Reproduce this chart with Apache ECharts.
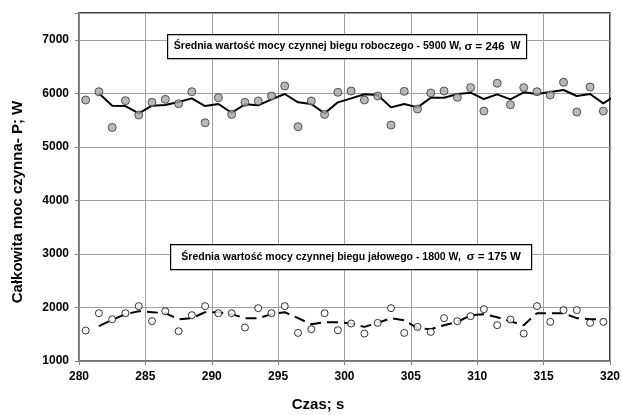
<!DOCTYPE html>
<html>
<head>
<meta charset="utf-8">
<script src="https://cdn.jsdelivr.net/npm/echarts@6/dist/echarts.min.js"></script>
<style>
  html, body { margin: 0; padding: 0; background: #fff; }
  #chart { width: 622px; height: 415px; }
</style>
</head>
<body>
<div id="chart"></div>
<script>
// Sample times (s), one reading per second
const times = [
  280.5, 281.5, 282.5, 283.5, 284.5, 285.5, 286.5, 287.5, 288.5, 289.5,
  290.5, 291.5, 292.5, 293.5, 294.5, 295.5, 296.5, 297.5, 298.5, 299.5,
  300.5, 301.5, 302.5, 303.5, 304.5, 305.5, 306.5, 307.5, 308.5, 309.5,
  310.5, 311.5, 312.5, 313.5, 314.5, 315.5, 316.5, 317.5, 318.5, 319.5
];

// Working run: measured total active power (W)
const workPoints = [
  5875, 6030, 5363, 5862, 5594, 5831, 5887, 5806, 6030, 5449,
  5918, 5606, 5831, 5856, 5950, 6137, 5375, 5856, 5606, 6019,
  6043, 5875, 5950, 5406, 6037, 5706, 6006, 6043, 5925, 6106,
  5669, 6187, 5787, 6106, 6030, 5968, 6206, 5650, 6118, 5669
];

// Working run: smoothed trend (W), from 281.5 s onward
const workTrendTimes = [
  281.5, 282.5, 283.5, 284.5, 285.5, 286.5, 287.5, 288.5, 289.5, 290.5,
  291.5, 292.5, 293.5, 294.5, 295.5, 296.5, 297.5, 298.5, 299.5, 300.5,
  301.5, 302.5, 303.5, 304.5, 305.5, 306.5, 307.5, 308.5, 309.5, 310.5,
  311.5, 312.5, 313.5, 314.5, 315.5, 316.5, 317.5, 318.5, 319.5, 320.5
];
const workTrend = [
  6000, 5768, 5762, 5625, 5768, 5781, 5837, 5906, 5762, 5800,
  5637, 5794, 5775, 5887, 5987, 5831, 5800, 5625, 5831, 5906,
  5981, 5968, 5737, 5800, 5737, 5918, 5918, 5987, 6012, 5893,
  5981, 5887, 6019, 5987, 6025, 6062, 5950, 5987, 5812, 5975
];

// Idle run: measured total active power (W)
const idlePoints = [
  1569, 1893, 1780, 1893, 2025, 1745, 1930, 1556, 1856, 2025,
  1893, 1893, 1625, 1987, 1893, 2025, 1525, 1594, 1893, 1575,
  1700, 1513, 1712, 1987, 1525, 1637, 1543, 1800, 1743, 1837,
  1968, 1669, 1775, 1513, 2025, 1731, 1950, 1950, 1712, 1731
];

// Idle run: smoothed trend (W), 281.5 s .. 319.5 s
const idleTrend = [
  1650, 1770, 1875, 1930, 1912, 1893, 1780, 1800, 1912, 1912,
  1875, 1800, 1800, 1875, 1912, 1800, 1687, 1725, 1725, 1700,
  1637, 1712, 1800, 1762, 1612, 1594, 1669, 1730, 1856, 1875,
  1818, 1740, 1669, 1893, 1893, 1893, 1800, 1780, 1780
];

// Axis settings
const xMin = 280, xMax = 320, xStep = 5;
const yMin = 1000, yMax = 7500, yStep = 1000;

// Annotation texts
const workNote = ['Średnia wartość mocy czynnej biegu roboczego - 5900 W, ', 'σ = 246', '  W'];
const idleNote = ['Średnia wartość mocy czynnej biegu jałowego - 1800 W,  ', 'σ = 175 W', ''];
const xTitle = 'Czas; s';
const yTitle = 'Całkowita moc czynna- P; W';

const pair = (xs, ys) => xs.map((x, i) => [x, ys[i]]);

const FONT = 'Liberation Sans, Arial, sans-serif';

const chart = echarts.init(document.getElementById('chart'), null, { renderer: 'canvas' });

function noteBox(lines, x, y, w, h) {
  return {
    type: 'group',
    left: x, top: y, z: 100,
    children: [
      { type: 'rect', z: 100, shape: { x: 0, y: 0, width: w, height: h },
        style: { fill: '#fff', stroke: '#000', lineWidth: 1.2 } },
      { type: 'text', z: 101, x: w / 2, y: h / 2,
        style: {
          text: '{a|' + lines[0] + '}{b|' + lines[1] + '}{a|' + lines[2] + '}',
          align: 'center', verticalAlign: 'middle',
          rich: {
            a: { fontFamily: FONT, fontWeight: 'bold', fontSize: 10.5, fill: '#000' },
            b: { fontFamily: FONT, fontWeight: 'bold', fontSize: 11.5, fill: '#000' }
          }
        } }
    ]
  };
}

chart.setOption({
  animation: false,
  backgroundColor: '#fff',
  grid: {
    left: 79, right: 12, top: 13, bottom: 54,
    outerBoundsMode: 'none', containLabel: false,
    show: true, borderColor: '#000', borderWidth: 1.5, backgroundColor: 'transparent'
  },
  xAxis: {
    type: 'value', min: xMin, max: xMax, interval: xStep,
    axisLine: { show: true, lineStyle: { color: '#808080', width: 1.5 } },
    axisTick: { show: true, length: 4, lineStyle: { color: '#808080' } },
    axisLabel: { fontFamily: FONT, fontWeight: 'bold', fontSize: 12, color: '#000', margin: 10 },
    splitLine: { show: true, lineStyle: { color: '#a0a0a0', width: 1 } }
  },
  yAxis: {
    type: 'value', min: yMin, max: yMax, interval: yStep,
    axisLine: { show: true, lineStyle: { color: '#808080', width: 1.5 } },
    axisTick: { show: true, length: 4, lineStyle: { color: '#808080' } },
    axisLabel: {
      fontFamily: FONT, fontWeight: 'bold', fontSize: 12, color: '#000', margin: 10,
      formatter: v => (v % yStep === 0 ? String(v) : '')
    },
    splitLine: { show: true, lineStyle: { color: '#a0a0a0', width: 1 } }
  },
  series: [
    {
      name: 'work-trend', type: 'line', data: pair(workTrendTimes, workTrend),
      showSymbol: false, symbol: 'none', clip: true,
      lineStyle: { color: '#000', width: 2 }, z: 2
    },
    {
      name: 'work', type: 'scatter', data: pair(times, workPoints),
      symbol: 'circle', symbolSize: 8,
      itemStyle: { color: '#a6a6a6', borderColor: '#333', borderWidth: 1 }, z: 3
    },
    {
      name: 'idle-trend', type: 'line', data: pair(times.slice(1), idleTrend),
      showSymbol: false, symbol: 'none', clip: true,
      lineStyle: { color: '#000', width: 2, type: [11, 6] }, z: 2
    },
    {
      name: 'idle', type: 'scatter', data: pair(times, idlePoints),
      symbol: 'circle', symbolSize: 7,
      itemStyle: { color: '#fff', borderColor: '#000', borderWidth: 1 }, z: 3
    }
  ],
  graphic: [
    noteBox(workNote, 167, 34, 359, 24),
    noteBox(idleNote, 170, 244, 361, 25),
    {
      type: 'text', z: 100, x: 18, y: 202, rotation: Math.PI / 2,
      style: {
        text: yTitle, align: 'center', verticalAlign: 'middle',
        fontFamily: FONT, fontWeight: 'bold', fontSize: 15, fill: '#000'
      }
    },
    {
      type: 'text', z: 100, x: 318, y: 405,
      style: {
        text: xTitle, align: 'center', verticalAlign: 'middle',
        fontFamily: FONT, fontWeight: 'bold', fontSize: 15, fill: '#000'
      }
    }
  ]
});
</script>
</body>
</html>
